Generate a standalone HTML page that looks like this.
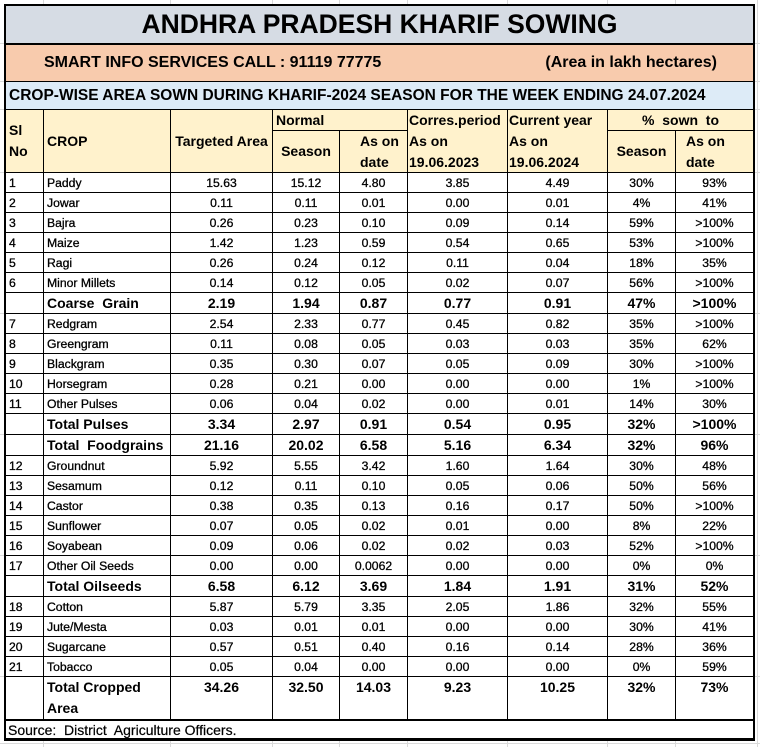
<!DOCTYPE html>
<html><head><meta charset="utf-8">
<style>
html,body{margin:0;padding:0;background:#fff;}
body{width:760px;height:747px;position:relative;overflow:hidden;font-family:"Liberation Sans",Arial,sans-serif;color:#000;}
.gv{position:absolute;top:0;width:1px;height:747px;background:#dadada;}
.gh{position:absolute;left:0;height:1px;width:760px;background:#dadada;}
#t{position:absolute;left:4px;top:4px;width:747px;border:2px solid #000;border-bottom-width:3px;background:#000;display:grid;gap:1px;
grid-template-columns:37px 126px 101px 66px 67px 99px 99px 67px 77px;
grid-template-rows:37px 37px 27px 20px 41px 19px 19px 19px 19px 19px 19px 20px 19px 19px 19px 19px 19px 20px 20px 19px 19px 19px 19px 19px 19px 20px 19px 19px 19px 19px 42px 18px;}
#t>div{display:flex;align-items:center;justify-content:center;white-space:nowrap;overflow:hidden;box-sizing:border-box;background:#fff;}
.full{grid-column:1 / -1;}
.ttl{background:#d6dce4 !important;font-weight:bold;font-size:26.5px;}
.r2{background:#f8cbad !important;font-weight:bold;font-size:16px;justify-content:space-between !important;padding:0 36px 0 38px;border-top:1px solid #000;}
.r3{background:#ddebf7 !important;font-weight:bold;font-size:15.5px;justify-content:flex-start !important;padding-left:3px;}
.h{background:#fff2cc !important;font-weight:bold;font-size:14px;line-height:21px;}
.rs{grid-row:span 2;}
.cs{grid-column:span 2;}
.n{font-size:12.2px;-webkit-text-stroke:0.3px #000;}
.k{font-size:14px;font-weight:bold;}
.l{justify-content:flex-start !important;padding-left:3px;}
.tc{align-items:flex-start !important;line-height:21px;}
.src{font-size:14px;justify-content:flex-start !important;padding-left:2px;border-top:1px solid #000;-webkit-text-stroke:0.2px #000;}
</style></head><body>
<div class="gv" style="left:43px"></div><div class="gv" style="left:170px"></div><div class="gv" style="left:272px"></div><div class="gv" style="left:339px"></div><div class="gv" style="left:407px"></div><div class="gv" style="left:507px"></div><div class="gv" style="left:607px"></div><div class="gv" style="left:675px"></div><div class="gv" style="left:757px"></div>
<div class="gh" style="top:43px"></div><div class="gh" style="top:81px"></div><div class="gh" style="top:109px"></div><div class="gh" style="top:172px"></div><div class="gh" style="top:313px"></div><div class="gh" style="top:434px"></div><div class="gh" style="top:555px"></div><div class="gh" style="top:676px"></div><div class="gh" style="top:743px"></div>
<div id="t">
<div class="full ttl">ANDHRA PRADESH KHARIF SOWING</div>
<div class="full r2"><span>SMART INFO SERVICES CALL : 91119 77775</span><span>(Area in lakh hectares)</span></div>
<div class="full r3">CROP-WISE AREA SOWN DURING KHARIF-2024 SEASON FOR THE WEEK ENDING 24.07.2024</div>

<div class="h rs l"><span>Sl<br>No</span></div>
<div class="h rs l">CROP</div>
<div class="h rs">Targeted Area</div>
<div class="h cs l" style="padding-left:3px">Normal</div>
<div class="h rs l" style="padding-left:1px"><span>Corres.period<br>As on<br>19.06.2023</span></div>
<div class="h rs l" style="padding-left:1px"><span>Current year<br>As on<br>19.06.2024</span></div>
<div class="h cs">%&nbsp; sown&nbsp; to</div>
<div class="h">Season</div>
<div class="h l" style="padding-left:20px"><span>As on<br>date</span></div>
<div class="h">Season</div>
<div class="h l" style="padding-left:10px"><span>As on<br>date</span></div>

<div class="n l">1</div><div class="n l">Paddy</div><div class="n">15.63</div><div class="n">15.12</div><div class="n">4.80</div><div class="n">3.85</div><div class="n">4.49</div><div class="n">30%</div><div class="n">93%</div>
<div class="n l">2</div><div class="n l">Jowar</div><div class="n">0.11</div><div class="n">0.11</div><div class="n">0.01</div><div class="n">0.00</div><div class="n">0.01</div><div class="n">4%</div><div class="n">41%</div>
<div class="n l">3</div><div class="n l">Bajra</div><div class="n">0.26</div><div class="n">0.23</div><div class="n">0.10</div><div class="n">0.09</div><div class="n">0.14</div><div class="n">59%</div><div class="n">&gt;100%</div>
<div class="n l">4</div><div class="n l">Maize</div><div class="n">1.42</div><div class="n">1.23</div><div class="n">0.59</div><div class="n">0.54</div><div class="n">0.65</div><div class="n">53%</div><div class="n">&gt;100%</div>
<div class="n l">5</div><div class="n l">Ragi</div><div class="n">0.26</div><div class="n">0.24</div><div class="n">0.12</div><div class="n">0.11</div><div class="n">0.04</div><div class="n">18%</div><div class="n">35%</div>
<div class="n l">6</div><div class="n l">Minor Millets</div><div class="n">0.14</div><div class="n">0.12</div><div class="n">0.05</div><div class="n">0.02</div><div class="n">0.07</div><div class="n">56%</div><div class="n">&gt;100%</div>
<div class="k l"></div><div class="k l">Coarse&nbsp; Grain</div><div class="k">2.19</div><div class="k">1.94</div><div class="k">0.87</div><div class="k">0.77</div><div class="k">0.91</div><div class="k">47%</div><div class="k">&gt;100%</div>
<div class="n l">7</div><div class="n l">Redgram</div><div class="n">2.54</div><div class="n">2.33</div><div class="n">0.77</div><div class="n">0.45</div><div class="n">0.82</div><div class="n">35%</div><div class="n">&gt;100%</div>
<div class="n l">8</div><div class="n l">Greengram</div><div class="n">0.11</div><div class="n">0.08</div><div class="n">0.05</div><div class="n">0.03</div><div class="n">0.03</div><div class="n">35%</div><div class="n">62%</div>
<div class="n l">9</div><div class="n l">Blackgram</div><div class="n">0.35</div><div class="n">0.30</div><div class="n">0.07</div><div class="n">0.05</div><div class="n">0.09</div><div class="n">30%</div><div class="n">&gt;100%</div>
<div class="n l">10</div><div class="n l">Horsegram</div><div class="n">0.28</div><div class="n">0.21</div><div class="n">0.00</div><div class="n">0.00</div><div class="n">0.00</div><div class="n">1%</div><div class="n">&gt;100%</div>
<div class="n l">11</div><div class="n l">Other Pulses</div><div class="n">0.06</div><div class="n">0.04</div><div class="n">0.02</div><div class="n">0.00</div><div class="n">0.01</div><div class="n">14%</div><div class="n">30%</div>
<div class="k l"></div><div class="k l">Total Pulses</div><div class="k">3.34</div><div class="k">2.97</div><div class="k">0.91</div><div class="k">0.54</div><div class="k">0.95</div><div class="k">32%</div><div class="k">&gt;100%</div>
<div class="k l"></div><div class="k l">Total&nbsp; Foodgrains</div><div class="k">21.16</div><div class="k">20.02</div><div class="k">6.58</div><div class="k">5.16</div><div class="k">6.34</div><div class="k">32%</div><div class="k">96%</div>
<div class="n l">12</div><div class="n l">Groundnut</div><div class="n">5.92</div><div class="n">5.55</div><div class="n">3.42</div><div class="n">1.60</div><div class="n">1.64</div><div class="n">30%</div><div class="n">48%</div>
<div class="n l">13</div><div class="n l">Sesamum</div><div class="n">0.12</div><div class="n">0.11</div><div class="n">0.10</div><div class="n">0.05</div><div class="n">0.06</div><div class="n">50%</div><div class="n">56%</div>
<div class="n l">14</div><div class="n l">Castor</div><div class="n">0.38</div><div class="n">0.35</div><div class="n">0.13</div><div class="n">0.16</div><div class="n">0.17</div><div class="n">50%</div><div class="n">&gt;100%</div>
<div class="n l">15</div><div class="n l">Sunflower</div><div class="n">0.07</div><div class="n">0.05</div><div class="n">0.02</div><div class="n">0.01</div><div class="n">0.00</div><div class="n">8%</div><div class="n">22%</div>
<div class="n l">16</div><div class="n l">Soyabean</div><div class="n">0.09</div><div class="n">0.06</div><div class="n">0.02</div><div class="n">0.02</div><div class="n">0.03</div><div class="n">52%</div><div class="n">&gt;100%</div>
<div class="n l">17</div><div class="n l">Other Oil Seeds</div><div class="n">0.00</div><div class="n">0.00</div><div class="n">0.0062</div><div class="n">0.00</div><div class="n">0.00</div><div class="n">0%</div><div class="n">0%</div>
<div class="k l"></div><div class="k l">Total Oilseeds</div><div class="k">6.58</div><div class="k">6.12</div><div class="k">3.69</div><div class="k">1.84</div><div class="k">1.91</div><div class="k">31%</div><div class="k">52%</div>
<div class="n l">18</div><div class="n l">Cotton</div><div class="n">5.87</div><div class="n">5.79</div><div class="n">3.35</div><div class="n">2.05</div><div class="n">1.86</div><div class="n">32%</div><div class="n">55%</div>
<div class="n l">19</div><div class="n l">Jute/Mesta</div><div class="n">0.03</div><div class="n">0.01</div><div class="n">0.01</div><div class="n">0.00</div><div class="n">0.00</div><div class="n">30%</div><div class="n">41%</div>
<div class="n l">20</div><div class="n l">Sugarcane</div><div class="n">0.57</div><div class="n">0.51</div><div class="n">0.40</div><div class="n">0.16</div><div class="n">0.14</div><div class="n">28%</div><div class="n">36%</div>
<div class="n l">21</div><div class="n l">Tobacco</div><div class="n">0.05</div><div class="n">0.04</div><div class="n">0.00</div><div class="n">0.00</div><div class="n">0.00</div><div class="n">0%</div><div class="n">59%</div>
<div class="k l tc"></div><div class="k l tc"><span>Total Cropped<br>Area</span></div><div class="k tc">34.26</div><div class="k tc">32.50</div><div class="k tc">14.03</div><div class="k tc">9.23</div><div class="k tc">10.25</div><div class="k tc">32%</div><div class="k tc">73%</div>
<div class="full src">Source:&nbsp; District&nbsp; Agriculture Officers.</div>
</div>
</body></html>
